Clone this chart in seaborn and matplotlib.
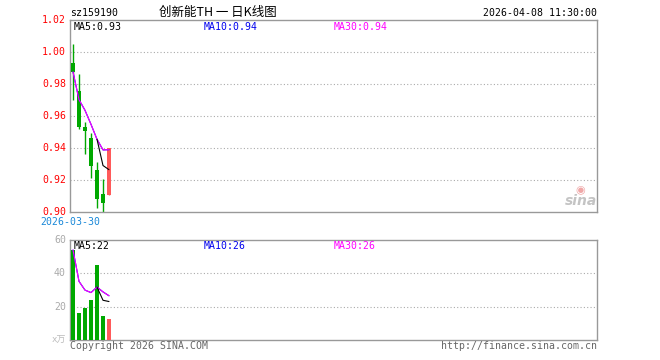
import numpy as np
import pandas as pd
import matplotlib
matplotlib.use("Agg")
import matplotlib.pyplot as plt
import seaborn as sns

# ---------------- data ----------------
code = "sz159190"
title = "创新能TH 一 日K线图"
timestamp = "2026-04-08 11:30:00"
first_date = "2026-03-30"
opens = [0.9935, 0.9758, 0.9529, 0.9466, 0.9264, 0.9110, 0.9108]
closes = [0.9877, 0.9529, 0.9504, 0.9285, 0.9081, 0.9056, 0.9398]
highs = [1.0054, 0.9866, 0.9566, 0.9494, 0.9310, 0.9208, 0.9398]
lows = [0.9700, 0.9520, 0.9362, 0.9212, 0.9023, 0.9000, 0.9104]
volumes = [54.0, 16.4, 19.4, 24.0, 45.0, 14.4, 12.6]
price_ticks = [0.90, 0.92, 0.94, 0.96, 0.98, 1.00, 1.02]
vol_ticks = [20, 40, 60]
price_ma_text = ["MA5:0.93", "MA10:0.94", "MA30:0.94"]
vol_ma_text = ["MA5:22", "MA10:26", "MA30:26"]

# ---------------- style ----------------
sns.set_theme(style="white")
plt.rcParams["font.family"] = ["DejaVu Sans Mono", "Noto Sans CJK SC"]

W, H = 660, 360
fig = plt.figure(figsize=(W / 100, H / 100), dpi=100)

def fx(x):
    return x / W

def fy(y):
    return 1 - y / H

def add_axes_px(left, top, right, bottom):
    return fig.add_axes([fx(left), fy(bottom), fx(right - left), (bottom - top) / H])

GREEN = "#00a800"
RED = "#ff5a5a"
FRAME = "#999999"
GRID = "#aaaaaa"
MAG = "#ff00ff"
BLUE = "#0000ee"

df = pd.DataFrame({"x": np.arange(len(closes)), "open": opens, "close": closes,
                   "high": highs, "low": lows, "vol": volumes})
df["up"] = df["close"] >= df["open"]
df["ma5"] = df["close"].rolling(5).mean()
df["ma10"] = df["close"].expanding().mean()
df["ma30"] = df["close"].expanding().mean()
df["vma5"] = df["vol"].rolling(5).mean()
df["vma10"] = df["vol"].expanding().mean()
df["vma30"] = df["vol"].expanding().mean()
colors = [RED if u else GREEN for u in df["up"]]

XMAX = (597 - 70) / 6 - 0.5

def frame(ax):
    for s in ax.spines.values():
        s.set_visible(True)
        s.set_color(FRAME)
        s.set_linewidth(1.0)
    ax.set_xticks([])
    ax.set_yticks([])
    ax.set_facecolor("white")

# ---------------- price panel ----------------
ax = add_axes_px(70, 20.3, 597, 212)
frame(ax)
ax.set_xlim(-0.5, XMAX)
ax.set_ylim(0.90, 1.02)
for v in price_ticks[1:-1]:
    ax.axhline(v, color=GRID, lw=0.8, ls=(0, (1, 2)), zorder=0)
ax.vlines(df["x"], df["low"], df["high"], colors=colors, lw=1.0, zorder=2)
ax.bar(df["x"], (df["close"] - df["open"]).abs(), bottom=df[["open", "close"]].min(axis=1),
       width=0.82, color=colors, linewidth=0, zorder=3)
sns.lineplot(data=df, x="x", y="ma10", ax=ax, color=BLUE, lw=0.8, zorder=4)
sns.lineplot(data=df, x="x", y="ma30", ax=ax, color=MAG, lw=0.8, zorder=5)
sns.lineplot(data=df, x="x", y="ma5", ax=ax, color="black", lw=0.8, zorder=6)
ax.set_xlabel("")
ax.set_ylabel("")
for v in price_ticks:
    fig.text(fx(66), fy(52.3 + (1.00 - v) * 1600), f"{v:.2f}", color="#ff0000",
             ha="right", va="center", fontsize=7.1)

for txt, xp, c in zip(price_ma_text, [74, 204, 334], ["black", BLUE, MAG]):
    fig.text(fx(xp), fy(27), txt, color=c, ha="left", va="center", fontsize=7.1)

# sina watermark
fig.text(fx(597), fy(201), "sina", color="#c4c4c4", ha="right", va="center",
         fontsize=10, fontweight="bold", style="italic", family="DejaVu Sans")
fig.text(fx(580), fy(190), "◉", color="#f0a8a8", ha="center", va="center",
         fontsize=8, family="DejaVu Sans")

# ---------------- volume panel ----------------
axv = add_axes_px(70, 240, 597, 340)
frame(axv)
axv.set_xlim(-0.5, XMAX)
axv.set_ylim(0, 60)
for v in vol_ticks[:-1]:
    axv.axhline(v, color=GRID, lw=0.8, ls=(0, (1, 2)), zorder=0)
axv.bar(df["x"], df["vol"], width=0.82, color=colors, linewidth=0, zorder=3)
sns.lineplot(data=df, x="x", y="vma10", ax=axv, color=BLUE, lw=0.8, zorder=4)
sns.lineplot(data=df, x="x", y="vma30", ax=axv, color=MAG, lw=0.8, zorder=5)
sns.lineplot(data=df, x="x", y="vma5", ax=axv, color="black", lw=0.8, zorder=6)
axv.set_xlabel("")
axv.set_ylabel("")
for v in vol_ticks:
    fig.text(fx(66), fy(340 - v / 60 * 100), f"{v}", color="#aaaaaa",
             ha="right", va="center", fontsize=7.1)
fig.text(fx(66), fy(340), "x万", color="#bbbbbb", ha="right", va="center", fontsize=6.5)

for txt, xp, c in zip(vol_ma_text, [74, 204, 334], ["black", BLUE, MAG]):
    fig.text(fx(xp), fy(246), txt, color=c, ha="left", va="center", fontsize=7.1)

# ---------------- header / footer ----------------
fig.text(fx(70), fy(13), code, color="black", ha="left", va="center", fontsize=7.1)
fig.text(fx(218), fy(12.5), title, color="black", ha="center", va="center", fontsize=9,
         family=["Noto Sans CJK SC", "DejaVu Sans"])
fig.text(fx(597), fy(13), timestamp, color="black", ha="right", va="center", fontsize=7.1)
fig.text(fx(70), fy(222), first_date, color="#1a88d8", ha="center", va="center", fontsize=7.1)
fig.text(fx(70), fy(346), "Copyright 2026 SINA.COM", color="#666666", ha="left",
         va="center", fontsize=7.1)
fig.text(fx(597), fy(346), "http://finance.sina.com.cn", color="#666666", ha="right",
         va="center", fontsize=7.1)

fig.savefig("out.png", dpi=100, facecolor="white")
